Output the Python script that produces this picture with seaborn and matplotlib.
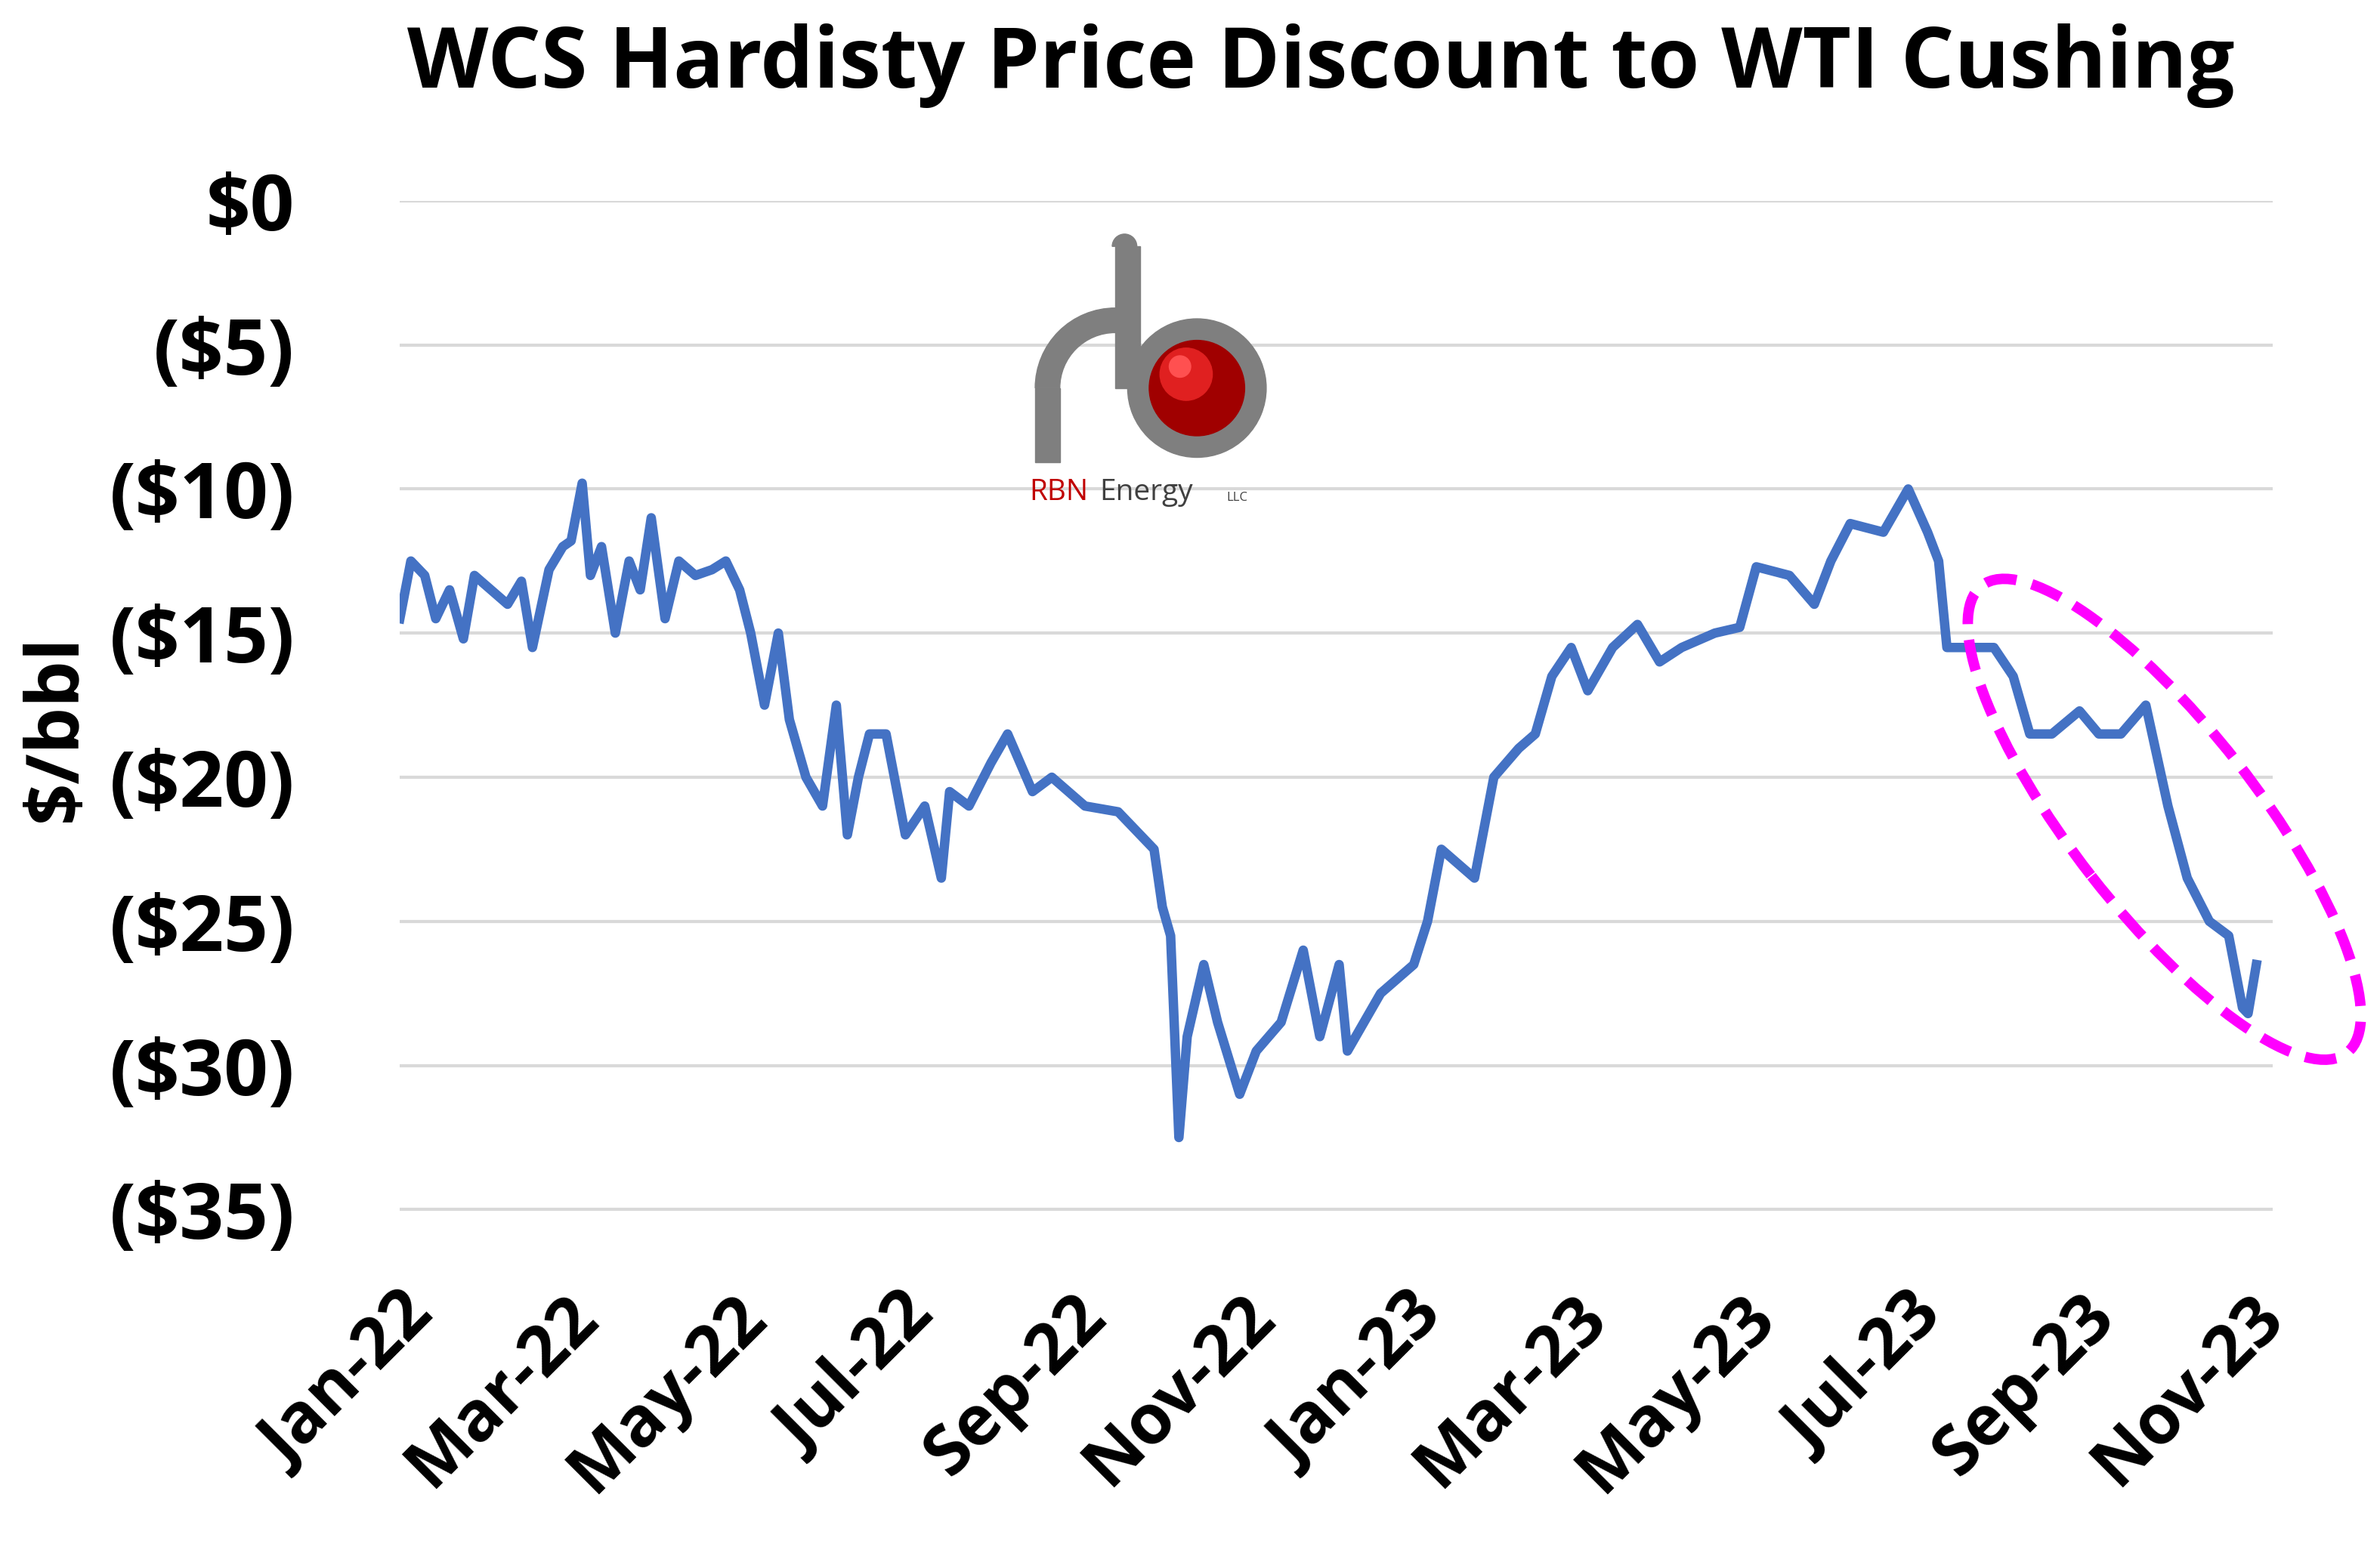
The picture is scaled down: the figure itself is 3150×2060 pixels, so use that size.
import matplotlib
matplotlib.use("Agg")
import matplotlib.pyplot as plt
import seaborn as sns
import pandas as pd
import numpy as np
from matplotlib.patches import Ellipse, Circle, Wedge, Rectangle
from matplotlib.transforms import IdentityTransform

dates = ["2022-01-01","2022-01-05","2022-01-10","2022-01-14","2022-01-19","2022-01-24","2022-01-28",
 "2022-02-03","2022-02-09","2022-02-14","2022-02-18","2022-02-24","2022-03-01","2022-03-04","2022-03-08",
 "2022-03-11","2022-03-15","2022-03-20","2022-03-25","2022-03-29","2022-04-02","2022-04-07","2022-04-12",
 "2022-04-18","2022-04-24","2022-04-29","2022-05-04","2022-05-08","2022-05-13","2022-05-18","2022-05-22",
 "2022-05-28","2022-06-03","2022-06-08","2022-06-12","2022-06-16","2022-06-20","2022-06-26","2022-07-03",
 "2022-07-10","2022-07-16","2022-07-19","2022-07-26","2022-08-03","2022-08-09","2022-08-18","2022-08-25",
 "2022-09-06","2022-09-18","2022-09-26","2022-10-01","2022-10-04","2022-10-07","2022-10-10","2022-10-13",
 "2022-10-19","2022-10-24","2022-11-01","2022-11-07","2022-11-16","2022-11-24","2022-11-30","2022-12-07",
 "2022-12-10","2022-12-22","2023-01-03","2023-01-08","2023-01-13","2023-01-25","2023-02-01","2023-02-10",
 "2023-02-16","2023-02-22","2023-03-01","2023-03-07","2023-03-16","2023-03-25","2023-04-02","2023-04-10",
 "2023-04-22","2023-05-01","2023-05-07","2023-05-19","2023-05-28","2023-06-03","2023-06-10","2023-06-22",
 "2023-07-01","2023-07-08","2023-07-12","2023-07-15","2023-07-24","2023-08-01","2023-08-08","2023-08-14",
 "2023-08-22","2023-09-01","2023-09-08","2023-09-16","2023-09-25","2023-10-03","2023-10-10","2023-10-18",
 "2023-10-25","2023-10-30","2023-11-01","2023-11-04"]
discount = [14.5,12.5,13.0,14.5,13.5,15.2,13.0,
 13.5,14.0,13.2,15.5,12.8,12.0,11.8,9.8,
 13.0,12.0,15.0,12.5,13.5,11.0,14.5,12.5,
 13.0,12.8,12.5,13.5,15.0,17.5,15.0,18.0,
 20.0,21.0,17.5,22.0,20.0,18.5,18.5,22.0,
 21.0,23.5,20.5,21.0,19.5,18.5,20.5,20.0,
 21.0,21.2,22.0,22.5,24.5,25.5,32.5,29.0,
 26.5,28.5,31.0,29.5,28.5,26.0,29.0,26.5,
 29.5,27.5,26.5,25.0,22.5,23.5,20.0,19.0,
 18.5,16.5,15.5,17.0,15.5,14.7,16.0,15.5,
 15.0,14.8,12.7,13.0,14.0,12.5,11.2,11.5,
 10.0,11.5,12.5,15.5,15.5,15.5,16.5,18.5,
 18.5,17.7,18.5,18.5,17.5,21.0,23.5,25.0,
 25.5,28.0,28.2,26.5]
yticks = [0, -5, -10, -15, -20, -25, -30, -35]
ytick_labels = ["$0", "($5)", "($10)", "($15)", "($20)", "($25)", "($30)", "($35)"]
xticks = ["2022-01-01","2022-03-01","2022-05-01","2022-07-01","2022-09-01","2022-11-01",
          "2023-01-01","2023-03-01","2023-05-01","2023-07-01","2023-09-01","2023-11-01"]
xtick_labels = ["Jan-22","Mar-22","May-22","Jul-22","Sep-22","Nov-22",
                "Jan-23","Mar-23","May-23","Jul-23","Sep-23","Nov-23"]

df = pd.DataFrame({"date": pd.to_datetime(dates), "value": -np.array(discount)})

plt.rcParams["font.family"] = "Open Sans"
plt.rcParams["font.weight"] = "bold"
fig = plt.figure(figsize=(31.5, 20.6), dpi=100)
ax = fig.add_axes([0.168, 0.193, 0.787, 0.678])
sns.lineplot(data=df, x="date", y="value", ax=ax, color="#4472C4", linewidth=9)
ax.set_ylim(-36.6, 0)
ax.set_xlim(pd.Timestamp("2022-01-01"), pd.Timestamp("2023-11-10"))
ax.set_yticks(yticks)
ax.set_yticklabels(ytick_labels, fontsize=74, fontweight="bold")
ax.set_xticks(pd.to_datetime(xticks))
ax.set_xticklabels(xtick_labels, fontsize=66, fontweight="bold", rotation=45, ha="right", rotation_mode="anchor")
ax.tick_params(axis="y", length=0, pad=100)
ax.tick_params(axis="x", length=0, pad=25)
ax.grid(axis="y", color="#D9D9D9", linewidth=3)
ax.grid(axis="x", visible=False)
for s in ax.spines.values():
    s.set_visible(False)
ax.set_xlabel("")
ax.set_ylabel("$/bbl", fontsize=70, fontweight="bold", labelpad=15)
fig.suptitle("WCS Hardisty Price Discount to WTI Cushing", x=0.555, y=0.985, fontsize=80, fontweight="bold")

S = 3150 / 1545
H = 2060
def px(x, y):
    return (x * S, H - y * S)
T = IdentityTransform()

ell = Ellipse(px(1405, 532), width=385 * S, height=120 * S, angle=-52,
              transform=T, fill=False, edgecolor="#FF00FF",
              linewidth=10, linestyle=(0, (3, 1.5)))
fig.patches.append(ell)

# logo
gray = "#7F7F7F"
fig.add_artist(Rectangle((px(724, 0)[0], px(0, 252)[1]), 16 * S, 92 * S, transform=T, color=gray))
fig.add_artist(Wedge(px(730, 160), 8 * S, 0, 180, transform=T, color=gray))
fig.add_artist(Wedge(px(777, 252), 45 * S, 0, 360, width=14 * S, transform=T, color=gray))
fig.add_artist(Wedge(px(724, 252), 52 * S, 90, 180, width=16 * S, transform=T, color=gray))
fig.add_artist(Rectangle((px(672, 0)[0], px(0, 300)[1]), 16 * S, 48 * S, transform=T, color=gray))
fig.add_artist(Circle(px(777, 252), 31 * S, transform=T, color="#A00000"))
fig.add_artist(Circle(px(770, 243), 17 * S, transform=T, color="#E02020"))
fig.add_artist(Circle(px(766, 238), 7 * S, transform=T, color="#FF5050"))
fig.text(668 * S / 3150, 1 - 320 * S / H, "RBN", color="#C00000", fontsize=28, fontweight="normal", va="center")
fig.text(714 * S / 3150, 1 - 320 * S / H, "Energy", color="#404040", fontsize=28, fontweight="normal", va="center")
fig.text(796 * S / 3150, 1 - 323 * S / H, "LLC", color="#404040", fontsize=12, fontweight="normal", va="center")

fig.savefig("out.png", dpi=100)
